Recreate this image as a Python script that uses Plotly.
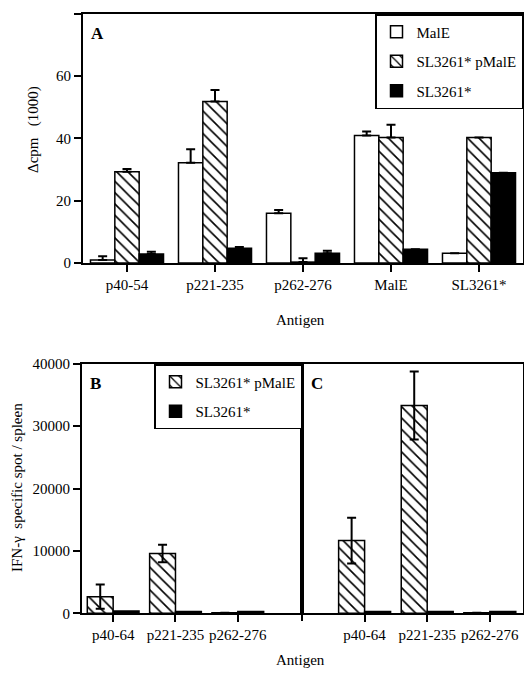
import plotly.graph_objects as go

# ---------------- data ----------------
cats_a = ["p40-54", "p221-235", "p262-276", "MalE", "SL3261*"]
male_a = [1.0, 32.2, 16.0, 40.9, 3.1]
male_a_err = [1.2, 4.3, 1.0, 1.3, None]
pmale_a = [29.3, 51.8, 0.3, 40.3, 40.3]
pmale_a_err = [0.9, 3.7, 1.2, 4.1, None]
sl_a = [2.9, 4.7, 3.1, 4.4, 29.0]
sl_a_err = [0.7, 0.4, 0.8, None, None]

cats_bc = ["p40-64", "p221-235", "p262-276"]
pmale_b = [2660, 9600, 100]
pmale_b_err = [1950, 1400, None]
sl_b = [350, 300, 300]
pmale_c = [11650, 33300, 100]
pmale_c_err = [3650, 5450, None]
sl_c = [300, 300, 300]

# page body has an 8px default margin; size the figure to fit inside it
OFF = 8
W, H = 532 - 2 * OFF, 680 - 2 * OFF
FONT = "Liberation Serif"


def px(x):
    return (x - OFF) / W


def py(y):
    return 1 - (y - OFF) / H


def err(vals, sym):
    return dict(type="data", array=vals, symmetric=sym,
                arrayminus=None if sym else [0] * len(vals),
                color="black", thickness=2, width=4.5, visible=True)


line = dict(color="black", width=1.5)
hatch = dict(shape="\\", fgcolor="black", bgcolor="white", size=8, solidity=0.2)

fig = go.Figure()

# Panel A
fig.add_trace(go.Bar(x=cats_a, y=male_a, name="MalE", legendgroup="a1",
                     marker=dict(color="white", line=line),
                     error_y=err(male_a_err, False), xaxis="x", yaxis="y", legend="legend"))
fig.add_trace(go.Bar(x=cats_a, y=pmale_a, name="SL3261* pMalE", legendgroup="a2",
                     marker=dict(color="white", line=line, pattern=hatch),
                     error_y=err(pmale_a_err, False), xaxis="x", yaxis="y", legend="legend"))
fig.add_trace(go.Bar(x=cats_a, y=sl_a, name="SL3261*", legendgroup="a3",
                     marker=dict(color="black", line=line),
                     error_y=err(sl_a_err, False), xaxis="x", yaxis="y", legend="legend"))

# Panel B
fig.add_trace(go.Bar(x=cats_bc, y=pmale_b, name="SL3261* pMalE", legendgroup="b1",
                     marker=dict(color="white", line=line, pattern=hatch),
                     error_y=err(pmale_b_err, True), xaxis="x2", yaxis="y2", legend="legend2"))
fig.add_trace(go.Bar(x=cats_bc, y=sl_b, name="SL3261*", legendgroup="b2",
                     marker=dict(color="black", line=line),
                     xaxis="x2", yaxis="y2", legend="legend2"))

# Panel C
fig.add_trace(go.Bar(x=cats_bc, y=pmale_c, name="SL3261* pMalE", showlegend=False,
                     marker=dict(color="white", line=line, pattern=hatch),
                     error_y=err(pmale_c_err, True), xaxis="x3", yaxis="y3"))
fig.add_trace(go.Bar(x=cats_bc, y=sl_c, name="SL3261*", showlegend=False,
                     marker=dict(color="black", line=line),
                     xaxis="x3", yaxis="y3"))

axcommon = dict(showline=True, linecolor="black", linewidth=2, mirror=True,
                ticks="outside", ticklen=7, tickwidth=1.5, tickcolor="black",
                showgrid=False, zeroline=False, automargin=False,
                tickfont=dict(family=FONT, size=15, color="black"))

legcommon = dict(bgcolor="white", bordercolor="black", borderwidth=1.5,
                 font=dict(family=FONT, size=15, color="black"),
                 tracegroupgap=7, xanchor="right", yanchor="top",
                 itemclick=False, itemdoubleclick=False)

fig.update_layout(
    template="none",
    width=W, height=H,
    margin=dict(l=0, r=0, t=0, b=0, pad=0),
    paper_bgcolor="white", plot_bgcolor="white",
    font=dict(family=FONT, size=15, color="black"),
    barmode="group", bargap=0.17, bargroupgap=0,
    xaxis=dict(axcommon, domain=[px(83), px(523)], anchor="y", type="category",
               categoryorder="array", categoryarray=cats_a, range=[-0.5, 4.5]),
    yaxis=dict(axcommon, domain=[py(263), py(13.7)], anchor="x", range=[0, 80], dtick=20),
    xaxis2=dict(axcommon, domain=[px(82), px(302)], anchor="y2", type="category",
                categoryorder="array", categoryarray=cats_bc, range=[-0.5, 3.03]),
    yaxis2=dict(axcommon, domain=[py(613.3), py(363.7)], anchor="x2", range=[0, 40000],
                dtick=10000, tickformat="d"),
    xaxis3=dict(axcommon, domain=[px(302), px(523)], anchor="y3", type="category",
                categoryorder="array", categoryarray=cats_bc, range=[-1.0, 2.53]),
    yaxis3=dict(axcommon, domain=[py(613.3), py(363.7)], anchor="x3", range=[0, 40000],
                ticks="", showticklabels=False),
    legend=dict(legcommon, x=px(523), y=py(14)),
    legend2=dict(legcommon, x=px(302), y=py(364)),
    showlegend=True,
)

# small tick at the B/C boundary below the axis
fig.add_shape(type="line", xref="paper", yref="paper",
              x0=px(302), x1=px(302), y0=py(613.3), y1=py(621),
              line=dict(color="black", width=2))

ann = dict(xref="paper", yref="paper", showarrow=False,
           xanchor="center", yanchor="middle",
           font=dict(family=FONT, size=15, color="black"))
bold = dict(family=FONT, size=17, color="black")
fig.add_annotation(ann, x=px(97), y=py(33), text="<b>A</b>", font=bold)
fig.add_annotation(ann, x=px(95), y=py(383), text="<b>B</b>", font=bold)
fig.add_annotation(ann, x=px(317), y=py(383), text="<b>C</b>", font=bold)
fig.add_annotation(ann, x=px(33), y=py(130), text="Δcpm\u00a0\u00a0\u00a0(1000)", textangle=-90)
fig.add_annotation(ann, x=px(17), y=py(488), text="IFN-γ\u00a0\u00a0specific spot / spleen", textangle=-90)
fig.add_annotation(ann, x=px(300), y=py(320), text="Antigen")
fig.add_annotation(ann, x=px(300), y=py(660), text="Antigen")

fig.write_html("out.html")
